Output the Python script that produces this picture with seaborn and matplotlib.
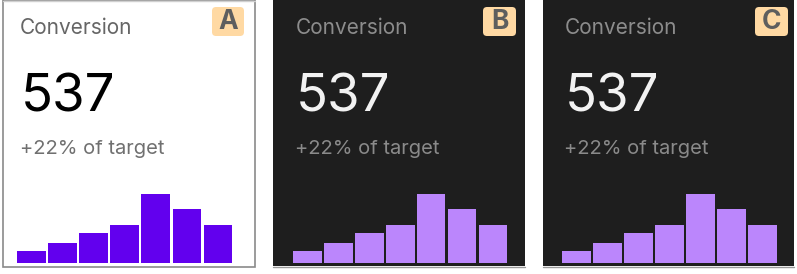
import numpy as np
import pandas as pd
import seaborn as sns
import matplotlib.pyplot as plt
from matplotlib.patches import Rectangle, FancyBboxPatch

# ─── data ────────────────────────────────────────────────────────────────
panel_ids   = ["A", "B", "C"]
card_title  = "Conversion"
card_value  = "537"
card_note   = "+22% of target"
bar_labels  = ["1", "2", "3", "4", "5", "6", "7"]
bar_values  = [12, 20, 30, 38, 69, 54, 38]

# ─── styling ─────────────────────────────────────────────────────────────
W, H, DPI = 797, 274, 100
sns.set_theme(style="white")
plt.rcParams["font.family"] = ["Inter", "DejaVu Sans"]

LIGHT = dict(bg="#FFFFFF", bar="#6200EE", title="#666666", value="#000000", note="#707070")
DARK  = dict(bg="#1E1E1E", bar="#BB86FC", title="#8C8C8C", value="#F2F2F2", note="#8A8A8A")

# pixel layout per card: card box, text x, badge box, bar span
layout = {
    "A": dict(theme=LIGHT, card=(3, 0, 255, 267), tx=20.0, badge=(212, 7, 244, 36), bars=(17.3, 232.3)),
    "B": dict(theme=DARK,  card=(273, 0, 525, 266), tx=295.3, badge=(483, 7, 516, 36), bars=(293.3, 507.3)),
    "C": dict(theme=DARK,  card=(543, 0, 794, 266), tx=564.3, badge=(755, 7, 788, 36), bars=(562.3, 776.7)),
}
BAR_TOP, BAR_BASE = 194.0, 263.3
BAR_W = 0.925

fig = plt.figure(figsize=(W / DPI, H / DPI), dpi=DPI)
fig.patch.set_facecolor("white")

# overlay in pixel coords for cards, text and badges
bg = fig.add_axes([0, 0, 1, 1])
bg.set_xlim(0, W)
bg.set_ylim(H, 0)
bg.axis("off")

for pid in panel_ids:
    L = layout[pid]
    th = L["theme"]
    x0, y0, x1, y1 = L["card"]
    if pid == "A":
        bg.add_patch(Rectangle((x0, y0), x1 - x0, y1 - y0, facecolor=th["bg"],
                               edgecolor="#8A8A8A", lw=1.2))
        bg.plot([x0, x1], [y0 + 0.5, y0 + 0.5], color="#D0D0D0", lw=1.0)
    else:
        bg.add_patch(Rectangle((x0, y0), x1 - x0, y1 - y0, facecolor=th["bg"],
                               edgecolor="none"))
        bg.plot([x0, x1], [y1 + 0.8, y1 + 0.8], color="#9A9A9A", lw=1.0)

    tx = L["tx"]
    bg.text(tx, 34.5, card_title, fontsize=15, color=th["title"], va="baseline", ha="left")
    bg.text(tx + 0.5, 111.0, card_value, fontsize=38, color=th["value"], va="baseline", ha="left")
    bg.text(tx, 153.5, card_note, fontsize=14.5, color=th["note"], va="baseline", ha="left")

    bx0, by0, bx1, by1 = L["badge"]
    bg.add_patch(FancyBboxPatch((bx0 + 4, by0 + 4), bx1 - bx0 - 8, by1 - by0 - 8,
                                boxstyle="round,pad=4", facecolor="#FFD9A3",
                                edgecolor="none"))
    bg.text((bx0 + bx1) / 2, (by0 + by1) / 2 + 0.8, pid, fontsize=19, fontweight="bold",
            color="#5E5E5E", ha="center", va="center")

# bar axes on top of the cards
for pid in panel_ids:
    L = layout[pid]
    th = L["theme"]
    xl, xr = L["bars"]
    ax = fig.add_axes([xl / W, 1 - BAR_BASE / H, (xr - xl) / W, (BAR_BASE - BAR_TOP) / H])
    df = pd.DataFrame({"bucket": bar_labels, "value": bar_values})
    sns.barplot(data=df, x="bucket", y="value", color=th["bar"], saturation=1,
                width=BAR_W, linewidth=0, ax=ax)
    ax.set_xlim(-BAR_W / 2, len(bar_labels) - 1 + BAR_W / 2)
    ax.set_ylim(0, max(bar_values))
    ax.set_facecolor("none")
    ax.axis("off")

fig.savefig("out.png", dpi=DPI, facecolor="white")
